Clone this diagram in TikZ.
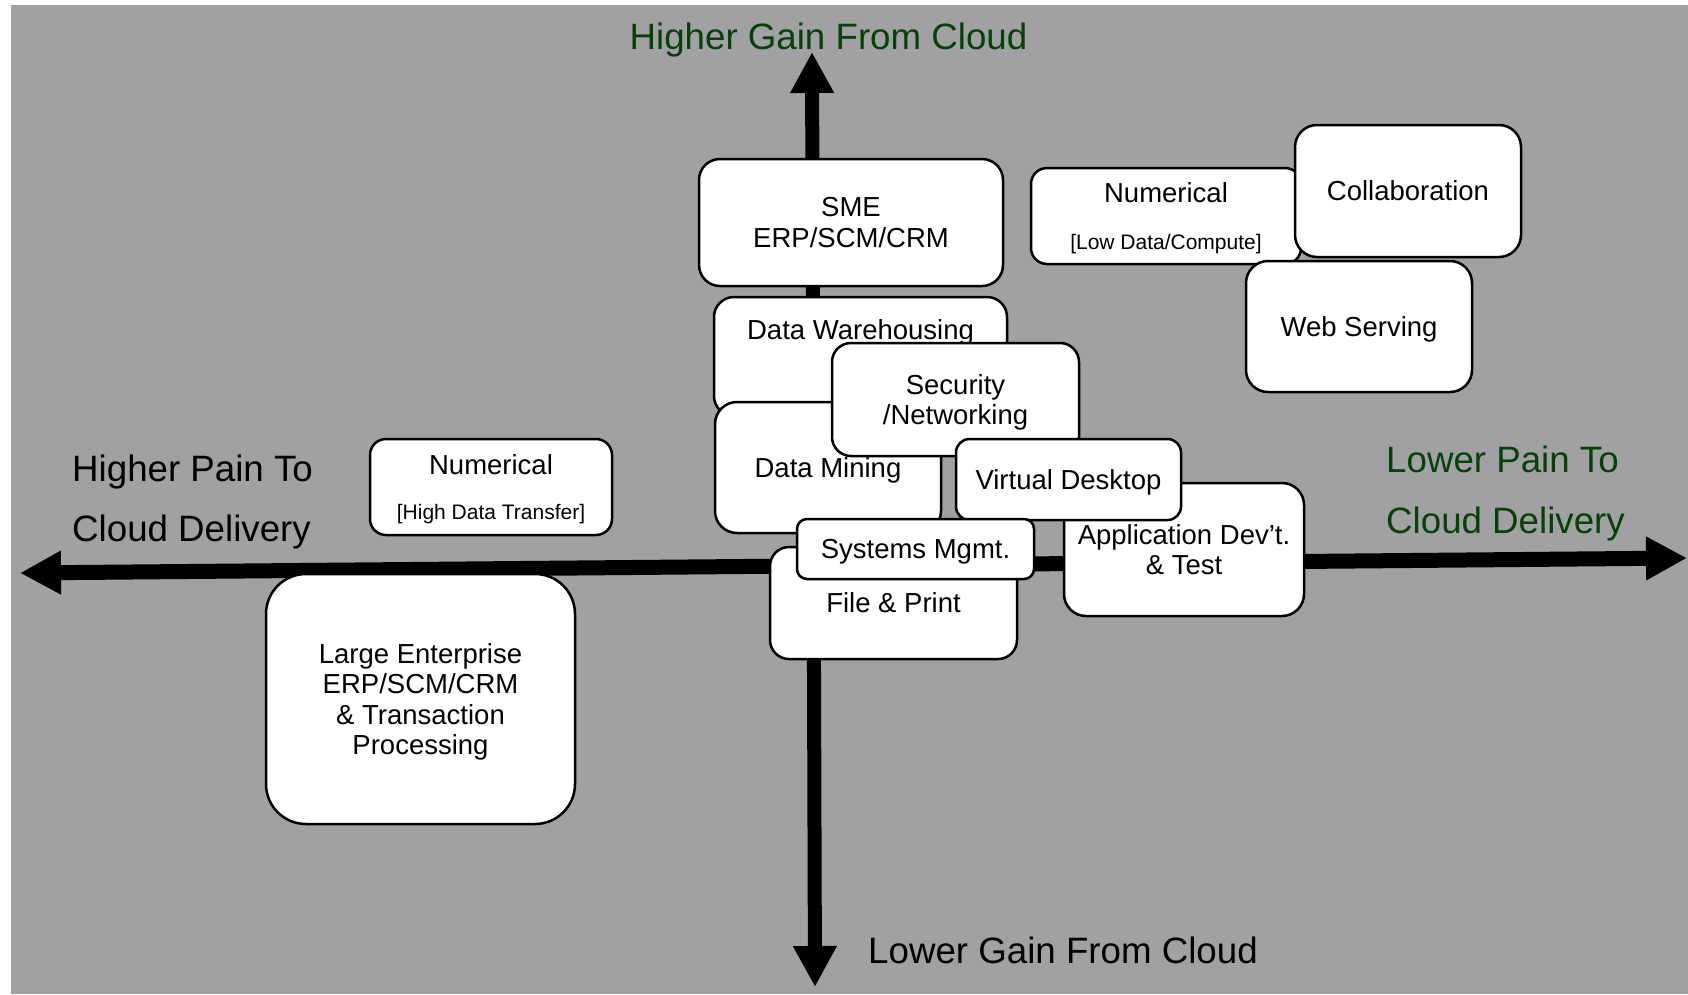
\documentclass[tikz,border=0pt]{standalone}
\usepackage{fontspec}
\setmainfont{Liberation Sans}
\usetikzlibrary{arrows.meta}
\definecolor{canvas}{RGB}{161,161,164}
\definecolor{gaingreen}{RGB}{8,64,10}
\tikzset{
  tile/.style={draw=black, fill=white, line width=2.5pt, inner sep=0pt,
    align=center, text depth=0pt, font=\fontsize{27.5}{30.4}\selectfont},
  tiletext/.style={inner sep=0pt, font=\fontsize{27.5}{30.4}\selectfont},
  notetext/.style={inner sep=0pt, font=\fontsize{21}{24}\selectfont},
  axislabel/.style={inner sep=0pt, font=\fontsize{36.7}{44}\selectfont},
  axisline/.style={line width=15pt,
    {Triangle[length=41pt,width=41pt]}-{Triangle[length=41pt,width=41pt]}},
}
\begin{document}
\begin{tikzpicture}[x=1pt, y=-1pt]
\useasboundingbox (0,0) rectangle (1688,994);
\fill[white] (0,0) rectangle (1688,994);
\fill[canvas] (11,5) rectangle (1688,994);

% axes
\coordinate (ax-w) at (20,573);
\coordinate (ax-e) at (1687,558);
\coordinate (ax-n) at (812,52);
\coordinate (ax-s) at (815,987);
\draw[axisline] (ax-w) -- (ax-e);
\draw[axisline, line width=14pt] (ax-n) -- (ax-s);

% axis captions
\node[axislabel, text=gaingreen, anchor=base] (gainhi) at (828.5,49) {Higher Gain From Cloud};
\node[axislabel, anchor=base west] (gainlo) at (868,963) {Lower Gain From Cloud};
\node[axislabel, anchor=base west] (painhiA) at (72,481) {Higher Pain To};
\node[axislabel, anchor=base west] (painhiB) at (72,541) {Cloud Delivery};
\node[axislabel, text=gaingreen, anchor=base west] (painloA) at (1386,472) {Lower Pain To};
\node[axislabel, text=gaingreen, anchor=base west] (painloB) at (1386,533) {Cloud Delivery};

% workload tiles, back to front
\node[tile, minimum width=309pt, minimum height=250pt, rounded corners=40pt] (large) at (420.5,699)
  {Large Enterprise\\ERP/SCM/CRM\\\& Transaction\\Processing};

\node[tile, minimum width=242pt, minimum height=96pt, rounded corners=16pt] (numhi) at (491,487) {};
\node[tiletext, anchor=base] (numhiA) at ([yshift=-37pt]numhi.north) {Numerical};
\node[notetext, anchor=base] (numhiB) at ([yshift=-82pt]numhi.north) {[High Data Transfer]};

\node[tile, minimum width=304pt, minimum height=127pt, rounded corners=21pt] (sme) at (851,222.5)
  {SME\\ERP/SCM/CRM};

\node[tile, minimum width=293pt, minimum height=119pt, rounded corners=20pt] (dw) at (860.5,356.5) {};
\node[tiletext, anchor=base] (dwtext) at ([yshift=-44pt]dw.north) {Data Warehousing};

\node[tile, minimum width=226pt, minimum height=131pt, rounded corners=22pt] (dm) at (828,467.5)
  {Data Mining};

\node[tile, minimum width=247pt, minimum height=113pt, rounded corners=19pt] (sec) at (955.5,399.5)
  {Security\\/Networking};

\node[tile, minimum width=240pt, minimum height=133pt, rounded corners=22pt] (appdev) at (1184,549.5)
  {Application Dev’t.\\\& Test};

\node[tile, minimum width=225pt, minimum height=81pt, rounded corners=13.5pt] (vd) at (1068.5,479.5)
  {Virtual Desktop};

\node[tile, minimum width=247pt, minimum height=112pt, rounded corners=19pt] (fp) at (893.5,603)
  {File \& Print};

\node[tile, minimum width=237pt, minimum height=60pt, rounded corners=10pt] (sysm) at (915.5,549)
  {Systems Mgmt.};

\node[tile, minimum width=270pt, minimum height=96pt, rounded corners=16pt] (numlo) at (1166,216) {};
\node[tiletext, anchor=base] (numloA) at ([yshift=-36pt]numlo.north) {Numerical};
\node[notetext, anchor=base] (numloB) at ([yshift=-83pt]numlo.north) {[Low Data/Compute]};

\node[tile, minimum width=226pt, minimum height=131pt, rounded corners=22pt] (web) at (1359,326.5)
  {Web Serving};

\node[tile, minimum width=226pt, minimum height=132pt, rounded corners=22pt] (collab) at (1408,191)
  {Collaboration};
\end{tikzpicture}
\end{document}
